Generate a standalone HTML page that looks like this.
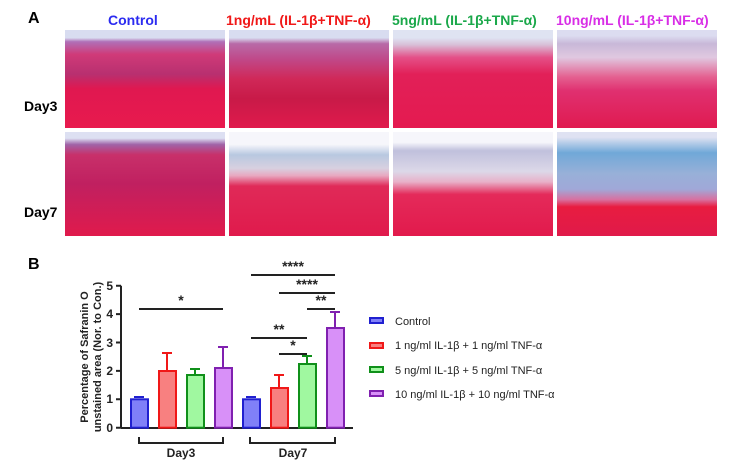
<!DOCTYPE html>
<html><head><meta charset="utf-8"><style>
html,body{margin:0;padding:0;background:#fff;width:750px;height:466px;overflow:hidden}
body{position:relative;font-family:"Liberation Sans",sans-serif}
.p{position:absolute;width:160px}
.t{position:absolute;font-weight:bold;font-size:13px;white-space:nowrap}
</style></head><body>
<div class="t" style="left:28px;top:10px;font-size:16px">A</div>
<div class="t" style="left:108px;top:12px;color:#2b2bf0;font-size:14px">Control</div>
<div class="t" style="left:226px;top:12px;color:#f01818;font-size:14px">1ng/mL (IL-1β+TNF-α)</div>
<div class="t" style="left:392px;top:12px;color:#1aa84a;font-size:14px">5ng/mL (IL-1β+TNF-α)</div>
<div class="t" style="left:556px;top:12px;color:#d82ee6;font-size:14px">10ng/mL (IL-1β+TNF-α)</div>
<div class="t" style="left:24px;top:98px;font-size:14px">Day3</div>
<div class="t" style="left:24px;top:204px;font-size:14px">Day7</div>
<!-- row 1 -->
<div class="p" style="left:65px;top:30px;height:98px;background:linear-gradient(#d8dcf0 0,#d8dcf0 8%,#b070b8 12%,#d03a78 25%,#b83070 45%,#e01850 60%,#e81a4e 100%)"></div>
<div class="p" style="left:229px;top:30px;height:98px;background:linear-gradient(#d8dcf0 0,#d8dcf0 8%,#b86aa8 14%,#c04888 30%,#d02858 50%,#c81a48 70%,#e01a4c 100%)"></div>
<div class="p" style="left:393px;top:30px;height:98px;background:linear-gradient(#dfe3f2 0,#dfe3f2 8%,#d8c0d8 15%,#e45088 28%,#e22058 45%,#e41a50 100%)"></div>
<div class="p" style="left:557px;top:30px;height:98px;background:linear-gradient(#dcdcf0 0,#dcdcf0 6%,#c8b8d8 14%,#e0c8e0 28%,#e46090 48%,#e03070 62%,#e01a50 100%)"></div>
<!-- row 2 -->
<div class="p" style="left:65px;top:132px;height:104px;background:linear-gradient(#dde0f2 0,#dde0f2 6%,#a064a8 12%,#c8306a 22%,#c02060 50%,#e01a4c 100%)"></div>
<div class="p" style="left:229px;top:132px;height:104px;background:linear-gradient(#f6f6fb 0,#f6f6fb 12%,#b8c8e0 22%,#d8d0e0 35%,#e8a8c0 42%,#e02a58 52%,#e01a4c 100%)"></div>
<div class="p" style="left:393px;top:132px;height:104px;background:linear-gradient(#f6f6fb 0,#f6f6fb 10%,#c0c0dc 18%,#dcd8e8 38%,#e8b0c8 48%,#e42a5a 60%,#e21a4c 100%)"></div>
<div class="p" style="left:557px;top:132px;height:104px;background:linear-gradient(#dfe2f2 0,#dfe2f2 5%,#70a8d8 20%,#98b0d8 40%,#a0a8d8 55%,#d870a0 65%,#e81c40 72%,#e01a4a 100%)"></div>

<div class="t" style="left:28px;top:256px;font-size:16px">B</div>
<svg width="750" height="466" style="position:absolute;left:0;top:0" font-family="Liberation Sans, sans-serif">
<g stroke="#222" stroke-width="2" fill="none">
<path d="M121 285.7V428M121 428H353"/>
<path d="M116 285.7H121M116 314.1H121M116 342.5H121M116 370.9H121M116 399.3H121M116 427.7H121"/>
<path d="M139 437V443H223V437M250 437V443H335V437"/>
<path d="M139 309H223M251 275H335M279 293H335M307 309H335M251 338H307M279 354H307"/>
</g>
<g font-size="12" font-weight="bold" text-anchor="end" fill="#222">
<text x="113" y="290">5</text><text x="113" y="318">4</text><text x="113" y="347">3</text><text x="113" y="375">2</text><text x="113" y="403">1</text><text x="113" y="432">0</text>
</g>
<g font-size="14" font-weight="bold" text-anchor="middle" fill="#222">
<text x="181" y="305">*</text><text x="293" y="271">****</text><text x="307" y="289">****</text><text x="321" y="305">**</text><text x="279" y="334">**</text><text x="293" y="350">*</text>
</g>
<g font-size="12" font-weight="bold" text-anchor="middle" fill="#222">
<text x="181" y="457">Day3</text><text x="293" y="457">Day7</text>
</g>
<g font-size="11" font-weight="bold" text-anchor="middle" fill="#222" transform="translate(88,357) rotate(-90)">
<text x="0" y="0">Percentage of Safranin O</text><text x="0" y="13">unstained area (Nor. to Con.)</text>
</g>
<g stroke-width="2">
<rect x="131" y="399.3" width="17" height="28.4" fill="#8080f8" stroke="#2020d0"/>
<rect x="159" y="371" width="17" height="56.7" fill="#f88080" stroke="#f01818"/>
<rect x="187" y="375" width="17" height="52.7" fill="#a0f8a0" stroke="#10901a"/>
<rect x="215" y="368" width="17" height="59.7" fill="#d890f8" stroke="#8020b0"/>
<rect x="243" y="399.3" width="17" height="28.4" fill="#8080f8" stroke="#2020d0"/>
<rect x="271" y="388" width="17" height="39.7" fill="#f88080" stroke="#f01818"/>
<rect x="299" y="364" width="17" height="63.7" fill="#a0f8a0" stroke="#10901a"/>
<rect x="327" y="328" width="17" height="99.7" fill="#d890f8" stroke="#8020b0"/>
<path d="M139 398V397M134 397H144" stroke="#2020d0"/>
<path d="M167 370V353M162 353H172" stroke="#f01818"/>
<path d="M195 374V369M190 369H200" stroke="#10901a"/>
<path d="M223 367V347M218 347H228" stroke="#8020b0"/>
<path d="M251 398V397M246 397H256" stroke="#2020d0"/>
<path d="M279 387V375M274 375H284" stroke="#f01818"/>
<path d="M307 363V356M302 356H312" stroke="#10901a"/>
<path d="M335 327V312M330 312H340" stroke="#8020b0"/>
</g>
<g stroke-width="2">
<rect x="370" y="318" width="13" height="5" fill="#8080f8" stroke="#2020d0"/>
<rect x="370" y="343" width="13" height="5" fill="#f88080" stroke="#f01818"/>
<rect x="370" y="367" width="13" height="5" fill="#a0f8a0" stroke="#10901a"/>
<rect x="370" y="391" width="13" height="5" fill="#d890f8" stroke="#8020b0"/>
</g>
<g font-size="11" fill="#222">
<text x="395" y="325">Control</text>
<text x="395" y="349">1 ng/ml IL-1β + 1 ng/ml TNF-α</text>
<text x="395" y="374">5 ng/ml IL-1β + 5 ng/ml TNF-α</text>
<text x="395" y="398">10 ng/ml IL-1β + 10 ng/ml TNF-α</text>
</g>
</svg>
</body></html>
